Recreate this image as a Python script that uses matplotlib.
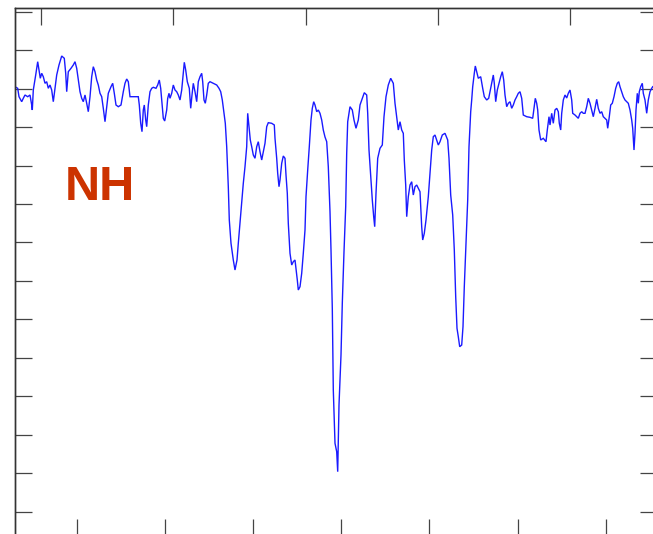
import numpy as np
import matplotlib
matplotlib.use("Agg")
import matplotlib.pyplot as plt

# Spectrum trace (x: channel, y: absorbance-like signal, plotted inverted)
x_vals = [15, 17.7, 19, 21.7, 23.3, 25, 27.7, 30, 31.7, 32.3, 33.3, 35.7, 37.7, 39, 40.3, 41.7, 43.3, 45, 46.7, 48.3,
          50, 51.7, 53.3, 55, 56.7, 59, 61.7, 64.3, 65.7, 66.7, 68.3, 71, 73.3, 75, 76.7, 78.3, 80, 81.7, 83.3, 85,
          86.7, 88.3, 90, 91.7, 93.3, 95, 96.7, 98.3, 100, 101.7, 103.3, 105, 106.7, 108.3, 111, 112.7, 114.3, 116, 118.3, 121,
          123.3, 125, 126.7, 128.3, 130, 133.3, 138.3, 139.3, 140.7, 142, 143.3, 144.3, 145.7, 146.7, 148.3, 150, 151.7, 153.3, 156, 157.7,
          159.3, 160.7, 161.7, 163.3, 164.7, 166.7, 167.7, 169, 170, 171.7, 173.3, 175, 176.7, 178.3, 180, 181.7, 183.3, 184.3, 185.7, 187.3,
          188.3, 189.3, 190.7, 192, 193.3, 195, 196.7, 198.3, 200, 201.7, 202.7, 204, 205.3, 206.7, 208.3, 210, 213.3, 216.7, 219, 220.7,
          222.3, 224, 225.3, 226.7, 228.3, 229.3, 231, 233.3, 235, 237, 238.3, 240, 241.7, 243.3, 245, 246.7, 247.7, 249, 250.3, 251.7,
          253.3, 255, 256.7, 258.3, 260, 261.7, 263.3, 265, 266.7, 268.3, 271.7, 274.3, 275, 276.7, 277.7, 279, 280, 281.7, 283.3, 285,
          286, 287.3, 288.3, 290, 291.7, 293.3, 295, 296, 297.3, 298.3, 300, 301.7, 303.3, 305, 306, 307.7, 309.3, 311, 312.3, 313.7,
          315, 316.7, 318.3, 320, 321.7, 323.3, 325, 326.7, 328.3, 330, 331, 332.3, 333.3, 335, 336.7, 337.7, 339, 341, 342.3, 344,
          345.7, 346.7, 347.7, 350, 352.3, 354, 356, 358.3, 360, 362.3, 364.3, 366.7, 367.7, 369, 370.7, 372.3, 373.7, 374.7, 376, 377.7,
          380, 382.3, 384, 386, 388.3, 390.7, 393.3, 395, 396.7, 398.3, 400, 401.7, 403.3, 404.3, 405.7, 406.7, 408.3, 410, 411.7, 413.3,
          415, 416.7, 418.3, 420, 421.7, 422.7, 424.3, 426, 428.3, 430, 431.7, 433.3, 435, 436.7, 438.3, 440, 442.3, 445, 447.7, 449,
          450.7, 452.7, 454.3, 455.7, 457, 458.3, 459.7, 461.7, 463, 464.3, 466, 467.7, 469, 470.7, 471.7, 472.7, 474.3, 475.3, 476.7, 478.3,
          480.7, 482.7, 484.3, 486.7, 488.7, 490.7, 492.3, 493.3, 494.3, 495.7, 497.3, 499, 500.7, 502.3, 503.7, 505, 506.7, 508.3, 510, 511.7,
          513.3, 515, 516.7, 518.3, 520, 521.7, 523.3, 526.7, 530, 532.7, 534, 535.3, 536.7, 537.7, 539, 540.7, 543.3, 546, 547.3, 549,
          550, 551.7, 553.3, 555, 556.7, 558.3, 559.3, 560.7, 561.7, 563.3, 565, 566.7, 568.3, 570, 571.7, 572.7, 575, 576.7, 578.3, 580,
          581.7, 583.3, 585, 586.7, 588.3, 590, 591.7, 593.3, 595, 596.7, 598.3, 600, 601.7, 603.3, 605, 606.7, 607.7, 609.3, 610.7, 612.3,
          614, 615.7, 617.3, 618.7, 620, 621.7, 623.3, 625, 626.7, 628.3, 630, 631.7, 632.7, 634, 635, 636, 637.3, 638.3, 639.3, 640.7,
          642.3, 643.3, 645, 646.7, 648.3, 650, 651.7, 652.7]
y_vals = [86.7, 88.3, 96.7, 101.7, 98.3, 95, 96.7, 95, 105, 110, 90, 75, 61.7, 70, 78.3, 73.3, 76.7, 83.3, 81.7, 88.3,
          85, 90, 101.7, 88.3, 75, 65, 56, 58.3, 73.3, 91.7, 71.7, 68.3, 65, 61.7, 68.3, 80, 91.7, 98.3, 101.7, 95,
          103.3, 111.7, 96.7, 76.7, 66.7, 71.7, 80, 85, 93.3, 96.7, 108.3, 121.7, 106.7, 93.3, 86.7, 83.3, 93.3, 105, 106.7, 105,
          91.7, 83.3, 79, 81.7, 96.7, 96.7, 96.7, 105, 123.3, 131.7, 110, 105, 120, 126.7, 105, 91.7, 88.3, 87.3, 88.3, 85,
          80, 88.3, 100, 118.3, 121, 110, 98.3, 93.3, 98.3, 93.3, 85, 90, 91.7, 95, 100, 90, 73.3, 62.3, 70, 81.7,
          85, 88.3, 108.3, 95, 83.3, 91.7, 101.7, 81.7, 76.7, 73.3, 81.7, 100, 103.3, 95, 83.3, 81.7, 83.3, 85, 88.3, 91.7,
          100, 113.3, 123.3, 146.7, 186.7, 220, 243.3, 260, 270, 260, 243.3, 223.3, 203.3, 183.3, 166.7, 146.7, 113.3, 126.7, 140, 146.7,
          155, 158.3, 146.7, 141.7, 151.7, 160, 151.7, 143.3, 126.7, 122.7, 123.3, 125, 138.3, 158.3, 173.3, 186.7, 180, 163.3, 156, 158.3,
          175, 193.3, 223.3, 253.3, 265, 261.7, 260, 268.3, 280, 290, 286.7, 273.3, 253.3, 230, 196.7, 170, 146.7, 120, 108.3, 101.7,
          105, 111.7, 110, 113.3, 120, 130, 137, 141.7, 166.7, 211.7, 250, 308.3, 390, 443.3, 451.7, 471.7, 405, 355, 303.3, 251.7,
          206.7, 153.3, 121.7, 106.7, 110, 120, 128.3, 120, 105, 98.3, 92.7, 95, 113.3, 150, 175, 200, 216.7, 226.7, 193.3, 158.3,
          148.3, 145, 116.7, 96.7, 85, 78.3, 83.3, 103.3, 116.7, 130, 121.7, 130, 133.3, 160, 185, 216.7, 196.7, 185, 181.7, 195,
          186.7, 185, 188.3, 191.7, 226.7, 240, 233.3, 220, 196.7, 173.3, 150, 136.7, 135, 140, 145, 141.7, 135, 133.3, 140, 158.3,
          195, 215, 250, 296.7, 328.3, 336.7, 346.7, 345, 326.7, 286.7, 243.3, 200, 146.7, 111.7, 100, 86.7, 73.3, 66, 71.7, 78.3,
          76.7, 88.3, 96.7, 100, 98.3, 88.3, 80, 75, 83.3, 101.7, 90, 83.3, 76.7, 71.7, 80, 95, 106.7, 103.3, 101.7, 108.3,
          105, 100, 96.7, 93.3, 91.7, 98.3, 115, 116.7, 117.3, 118.3, 108.3, 98.3, 103.3, 110, 130, 140, 138.3, 141.7, 130, 116.7,
          125, 113.3, 123.3, 110, 108.3, 111.7, 123.3, 130, 113.3, 100, 95, 98, 93.3, 90, 100, 113.3, 115, 116.7, 118.3, 113.3,
          111.7, 113.3, 113.3, 106.7, 98.3, 103.3, 110, 116.7, 108.3, 99.3, 108.3, 113.3, 111.7, 116.7, 118.3, 120, 128.3, 116.7, 105, 103.3,
          96.7, 88.3, 83.3, 81.7, 86.7, 91.7, 96.7, 100, 101.7, 103.3, 110, 120, 128.3, 150, 133.3, 110, 93.3, 103.3, 91.7, 86.7,
          83.3, 93.3, 100, 113.3, 100, 91.7, 88.3, 86.7]

# Tick positions (unlabelled)
bottom_ticks = [76.7 + 88.17 * k for k in range(7)]
top_ticks = [41 + 132.25 * k for k in range(5)]
left_ticks = [11.7 + 38.46 * k for k in range(14)]

label_text = "NH"

W, H = 653, 534
fig = plt.figure(figsize=(W / 100, H / 100), dpi=100)
left_px, top_px, right_px, bottom_px = 15.3, 7.5, 657, 535.5
ax = fig.add_axes([left_px / W, 1 - bottom_px / H, (right_px - left_px) / W, (bottom_px - top_px) / H])

ax.plot(x_vals, y_vals, color='#1a1aff', lw=1.0, solid_joinstyle='miter')
ax.set_xlim(left_px, right_px)
ax.set_ylim(bottom_px, top_px)

spine_col = '#333333'
for s in ax.spines.values():
    s.set_color(spine_col)
    s.set_linewidth(1.0)

ax.set_xticks(bottom_ticks)
ax.set_yticks(left_ticks)
ax.tick_params(axis='both', which='both', direction='in', length=12.3, width=0.9,
               color='#444444', labelbottom=False, labelleft=False,
               left=True, right=True, bottom=True, top=False)

ax2 = ax.twiny()
ax2.set_xlim(ax.get_xlim())
ax2.set_xticks(top_ticks)
ax2.tick_params(axis='x', direction='in', length=12.3, width=0.9, color='#444444',
                labeltop=False, top=True, bottom=False)
for s in ax2.spines.values():
    s.set_color(spine_col)
    s.set_linewidth(1.0)

ax.text(65, 200, label_text, color='#cc3300', fontsize=35, fontweight='bold',
        family='Liberation Sans', ha='left', va='baseline')

fig.savefig("out.png", dpi=100)
